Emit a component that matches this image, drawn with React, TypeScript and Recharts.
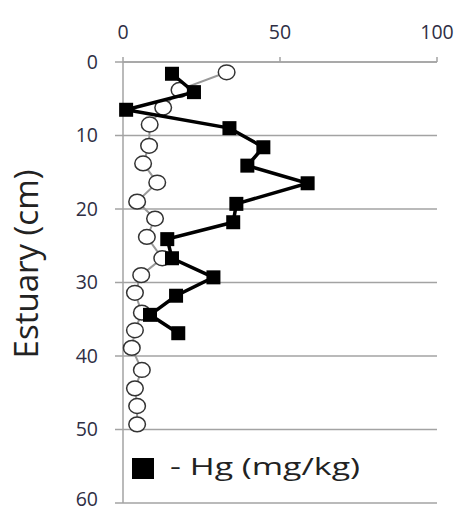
import { ScatterChart, Scatter, XAxis, YAxis, CartesianGrid, Label } from 'recharts';

// depth (cm) and value
const hgDepth = [1.6, 4.1, 6.5, 9.0, 11.6, 14.1, 16.5, 19.3, 21.8, 24.1, 26.7, 29.3, 31.8, 34.4, 36.9];
const hgValue = [15.6, 22.6, 1.0, 33.9, 44.7, 39.6, 58.8, 36.1, 35.1, 14.1, 15.6, 28.8, 16.9, 8.6, 17.6];

const otherDepth = [1.4, 3.8, 6.2, 8.5, 11.4, 13.8, 16.4, 19.0, 21.3, 23.8, 26.7, 29.0, 31.4, 34.1, 36.5, 38.9, 41.9, 44.4, 46.8, 49.3];
const otherValue = [33.0, 18.0, 12.8, 8.5, 8.3, 6.4, 10.9, 4.5, 10.2, 7.6, 12.5, 5.8, 3.8, 6.0, 3.8, 2.8, 6.0, 3.8, 4.5, 4.5];

const xTicks = [0, 50, 100];
const yTicks = [0, 10, 20, 30, 40, 50, 60];

const hgData = hgDepth.map((y, i) => ({ x: hgValue[i], y }));
const otherData = otherDepth.map((y, i) => ({ x: otherValue[i], y }));

const GRAY = '#a3a3a3';
const tickFont = { fontSize: 19.5, fill: '#2e2e44', fontFamily: 'Open Sans' };

const Square = (p: any) => (
  <rect x={p.cx - 7} y={p.cy - 7} width={14} height={14} fill="#000" />
);

const Ring = (p: any) => (
  <ellipse cx={p.cx} cy={p.cy} rx={8.3} ry={7.4} fill="#fff" stroke="#333" strokeWidth={1.5} />
);

export default function App() {
  return (
    <div style={{ position: 'relative', width: 456, height: 502 }}>
      <ScatterChart width={456} height={502} margin={{ top: 0, right: 27, left: 0, bottom: 7 }}>
        <CartesianGrid vertical={false} stroke={GRAY} strokeWidth={1.5} />
        <XAxis
          type="number"
          dataKey="x"
          orientation="top"
          domain={[0, 100]}
          ticks={xTicks}
          height={54}
          axisLine={{ stroke: GRAY, strokeWidth: 1.5 }}
          tickLine={{ stroke: GRAY, strokeWidth: 1.5 }}
          tickSize={5}
          tickMargin={18}
          tick={tickFont}
        />
        <YAxis
          type="number"
          dataKey="y"
          reversed
          domain={[0, 60]}
          ticks={yTicks}
          width={115}
          axisLine={{ stroke: GRAY, strokeWidth: 1.5 }}
          tickLine={{ stroke: GRAY, strokeWidth: 1.5 }}
          tickSize={8}
          tickMargin={17}
          tick={tickFont}
        >
          <Label
            content={() => (
              <text
                x={17}
                y={256}
                transform="rotate(-90 17 256)"
                textAnchor="middle"
                dominantBaseline="central"
                fontSize={33}
                fontFamily="Open Sans"
                fill="#222"
              >
                Estuary (cm)
              </text>
            )}
          />
        </YAxis>
        <Scatter
          data={otherData}
          line={{ stroke: '#999', strokeWidth: 2 }}
          lineType="joint"
          shape={Ring}
          isAnimationActive={false}
        />
        <Scatter
          data={hgData}
          line={{ stroke: '#000', strokeWidth: 3.5 }}
          lineType="joint"
          shape={Square}
          isAnimationActive={false}
        />
      </ScatterChart>
      <svg width={300} height={40} style={{ position: 'absolute', left: 124, top: 446 }}>
        <rect x={0} y={4} width={22} height={21} fill="#000" />
        <text
          x={38}
          y={21}
          fontSize={24}
          fontFamily="Open Sans"
          fill="#222"
          textLength={190}
          lengthAdjust="spacingAndGlyphs"
        >
          - Hg (mg/kg)
        </text>
      </svg>
    </div>
  );
}
